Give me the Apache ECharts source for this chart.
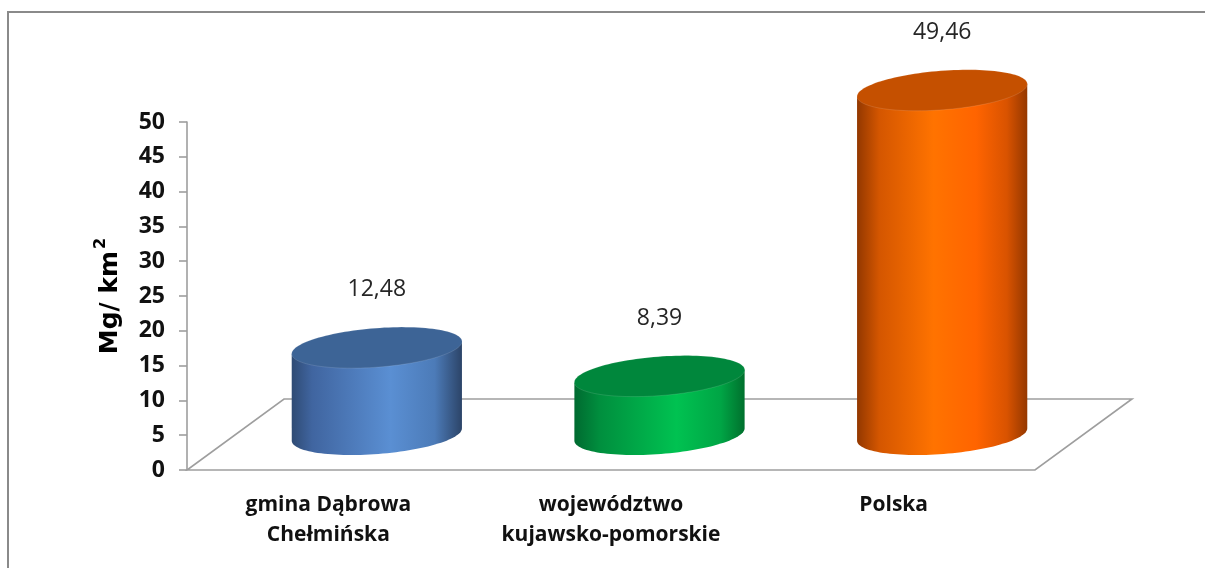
<!DOCTYPE html>
<html><head><meta charset="utf-8">
<script src="https://cdn.jsdelivr.net/npm/echarts@6/dist/echarts.min.js"></script>
<style>html,body{margin:0;padding:0;background:#fff}#c{width:1205px;height:568px}</style>
</head><body><div id="c"></div>
<script>
// ---- data ----
const categories = ['gmina Dąbrowa\nChełmińska', 'województwo\nkujawsko-pomorskie', 'Polska'];
const values = [12.48, 8.39, 49.46];
const yMin = 0, yMax = 50, yInterval = 5;
const yAxisTitleBase = 'Mg/ km';
const yAxisTitleSup = '2';

// ---- styling ----
const DX = 97, DY = -71;            // floor depth (3D offset)
const TILT = 4.4 * Math.PI / 180;  // perspective tilt of ellipses
const palettes = [
  { top: '#3d6496', side: [[0,'#2f4b74'],[0.12,'#4065a0'],[0.58,'#5a8fd3'],[0.84,'#4c7bb8'],[1,'#2c4468']] },
  { top: '#00873c', side: [[0,'#006a30'],[0.15,'#008f3e'],[0.6,'#00c251'],[0.86,'#00a545'],[1,'#00702d']] },
  { top: '#c55000', side: [[0,'#933800'],[0.13,'#d45600'],[0.45,'#ff7300'],[0.7,'#ff6400'],[0.88,'#d95300'],[1,'#953800']] }
];

const chart = echarts.init(document.getElementById('c'), null, { renderer: 'canvas' });

function fmt(v) { return v.toFixed(2).replace('.', ','); }

function renderFloor(params, api) {
  const cs = params.coordSys;
  const y0 = api.coord([0, 0])[1];
  const x0 = cs.x, x1 = cs.x + cs.width;
  return {
    type: 'polygon',
    shape: { points: [[x0, y0], [x1, y0], [x1 + DX, y0 + DY], [x0 + DX, y0 + DY]] },
    style: { fill: 'none', stroke: '#9e9e9e', lineWidth: 1.6 },
    z2: 0
  };
}

function renderCylinder(params, api) {
  const idx = api.value(0);
  const val = api.value(1);
  const base = api.coord([idx, 0]);
  const top = api.coord([idx, val]);
  const band = api.size([1, 0])[0];
  const a = band * 0.302, b = 19.5;
  const cx = base[0] + DX / 2;
  const by = base[1] + DY / 2;
  const ty = top[1] + DY / 2;
  const ux = Math.cos(TILT), uy = -Math.sin(TILT);
  const vx = Math.sin(TILT), vy = Math.cos(TILT);
  function P(cy, t) {
    return [cx + a * Math.cos(t) * ux + b * Math.sin(t) * vx,
            cy + a * Math.cos(t) * uy + b * Math.sin(t) * vy];
  }
  const N = 60;
  const side = [P(ty, Math.PI)];
  for (let i = 0; i <= N; i++) side.push(P(by, Math.PI - Math.PI * i / N));
  side.push(P(ty, 0));
  const cap = [];
  for (let i = 0; i < N * 2; i++) cap.push(P(ty, 2 * Math.PI * i / (N * 2)));
  const pal = palettes[params.dataIndex % palettes.length];
  const grad = new echarts.graphic.LinearGradient(0, 0, 1, 0,
    pal.side.map(s => ({ offset: s[0], color: s[1] })));
  return {
    type: 'group',
    children: [
      { type: 'polygon', shape: { points: side }, style: { fill: grad } },
      { type: 'polygon', shape: { points: cap }, style: { fill: pal.top, stroke: 'rgba(255,255,255,0.12)', lineWidth: 1 } },
      { type: 'text', x: cx, y: ty - 58,
        style: { text: fmt(val), fill: '#262626', fontSize: 23, fontFamily: '"Open Sans", sans-serif',
                 align: 'center', verticalAlign: 'middle' } }
    ]
  };
}

const option = {
  animation: false,
  backgroundColor: '#ffffff',
  graphic: [
    { type: 'rect', shape: { x: 8, y: 12, width: 1300, height: 700 },
      style: { fill: 'none', stroke: '#8a8a8a', lineWidth: 2 }, silent: true, z: -10 }
  ],
  grid: { left: 187, right: 170, top: 122, bottom: 98, containLabel: false, outerBoundsMode: 'none' },
  xAxis: {
    type: 'category', data: categories,
    axisLine: { show: false }, axisTick: { show: false }, splitLine: { show: false },
    axisLabel: { margin: 20, color: '#111', fontSize: 21, fontWeight: 'bold',
                 fontFamily: '"Open Sans", sans-serif', lineHeight: 30, interval: 0 }
  },
  yAxis: {
    type: 'value', min: yMin, max: yMax, interval: yInterval,
    name: '{m|' + yAxisTitleBase + '}{s|' + yAxisTitleSup + '}',
    nameLocation: 'middle', nameRotate: 90, nameGap: 64,
    nameTextStyle: {
      rich: {
        m: { color: '#000', fontSize: 25, fontWeight: 'bold', fontFamily: '"DejaVu Sans", sans-serif', lineHeight: 30, verticalAlign: 'bottom' },
        s: { color: '#000', fontSize: 16, fontWeight: 'bold', fontFamily: '"DejaVu Sans", sans-serif', lineHeight: 17, verticalAlign: 'top', padding: [0, 0, 0, 2] }
      }
    },
    axisLine: { show: true, lineStyle: { color: '#9e9e9e', width: 1.6 } },
    axisTick: { show: true, inside: false, length: 8, lineStyle: { color: '#9e9e9e', width: 1.6 } },
    splitLine: { show: false },
    axisLabel: { margin: 22, color: '#111', fontSize: 23, fontWeight: 'bold', fontFamily: '"Open Sans", sans-serif' }
  },
  series: [
    { type: 'custom', name: 'floor', renderItem: renderFloor, data: [[0, 0]], clip: false, silent: true, z: 1 },
    { type: 'custom', name: 'values', renderItem: renderCylinder,
      data: values.map((v, i) => [i, v]), encode: { x: 0, y: 1 }, clip: false, z: 2 }
  ]
};
chart.setOption(option);
</script>
</body></html>
